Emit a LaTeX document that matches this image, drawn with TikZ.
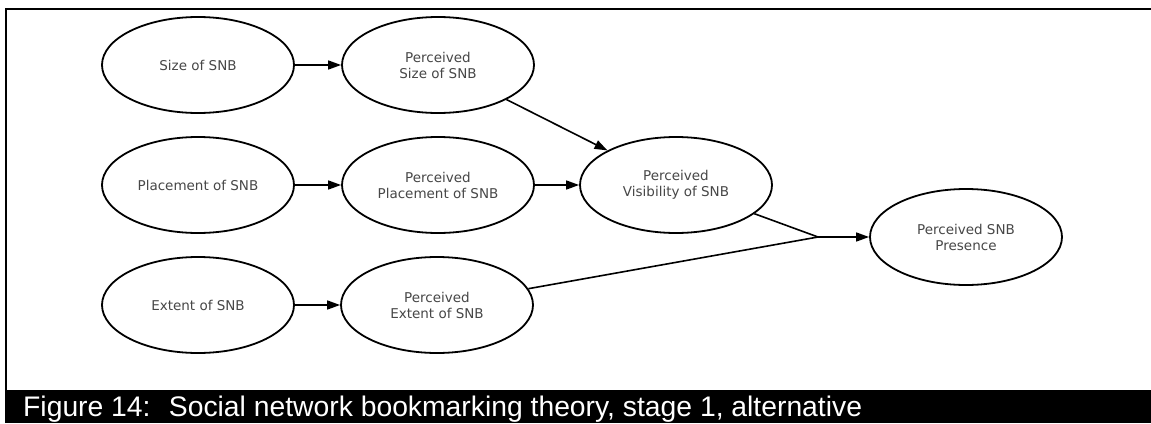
\documentclass[tikz,border=0pt]{standalone}
\usepackage{fontspec}
\setmainfont{Liberation Sans}
\newfontfamily\nodefont{DejaVu Sans}
\usetikzlibrary{shapes.geometric,arrows.meta}
\tikzset{
  concept/.style={ellipse, draw=black, line width=1.8pt, minimum width=192pt,
    minimum height=96pt, inner sep=0pt, align=center, text=black!72,
    font=\nodefont\fontsize{13.5}{16}\selectfont},
  link/.style={line width=1.6pt, -{Triangle[length=13pt,width=9pt]}},
  plain/.style={line width=1.6pt},
  frameline/.style={line width=2.2pt, line cap=rect}
}
\begin{document}
\begin{tikzpicture}[x=1pt,y=-1pt]
  \useasboundingbox (0,0) rectangle (1151,423);
  \fill[white] (0,0) rectangle (1151,423);
  % outer frame (top and left rules) and caption bar
  \draw[frameline] (1151,9) -- (6,9) -- (6,390);
  \fill[black] (5,390) rectangle (1151,423);
  \node[anchor=base west, inner sep=0pt, text=white,
        font=\fontsize{28.3}{34}\selectfont] (cap) at (23,416)
        {Figure 14: \ Social network bookmarking theory, stage 1, alternative};

  % concepts
  \node[concept] (size)   at (198,65)  {Size of SNB};
  \node[concept] (psize)  at (438,65)  {Perceived\\Size of SNB};
  \node[concept] (place)  at (198,185) {Placement of SNB};
  \node[concept] (pplace) at (438,185) {Perceived\\Placement of SNB};
  \node[concept] (vis)    at (676,185) {Perceived\\Visibility of SNB};
  \node[concept] (extent) at (198,305) {Extent of SNB};
  \node[concept] (pext)   at (437,305) {Perceived\\Extent of SNB};
  \node[concept] (pres)   at (966,237) {Perceived SNB\\Presence};
  \coordinate (join) at (818,237);

  % relations
  \draw[link] (size) -- (psize);
  \draw[link] (place) -- (pplace);
  \draw[link] (extent) -- (pext);
  \draw[link] (psize) -- (vis);
  \draw[link] (pplace) -- (vis);
  \draw[plain] (vis) -- (join);
  \draw[plain] (pext) -- (join);
  \draw[link] (join) -- (pres);
\end{tikzpicture}
\end{document}
